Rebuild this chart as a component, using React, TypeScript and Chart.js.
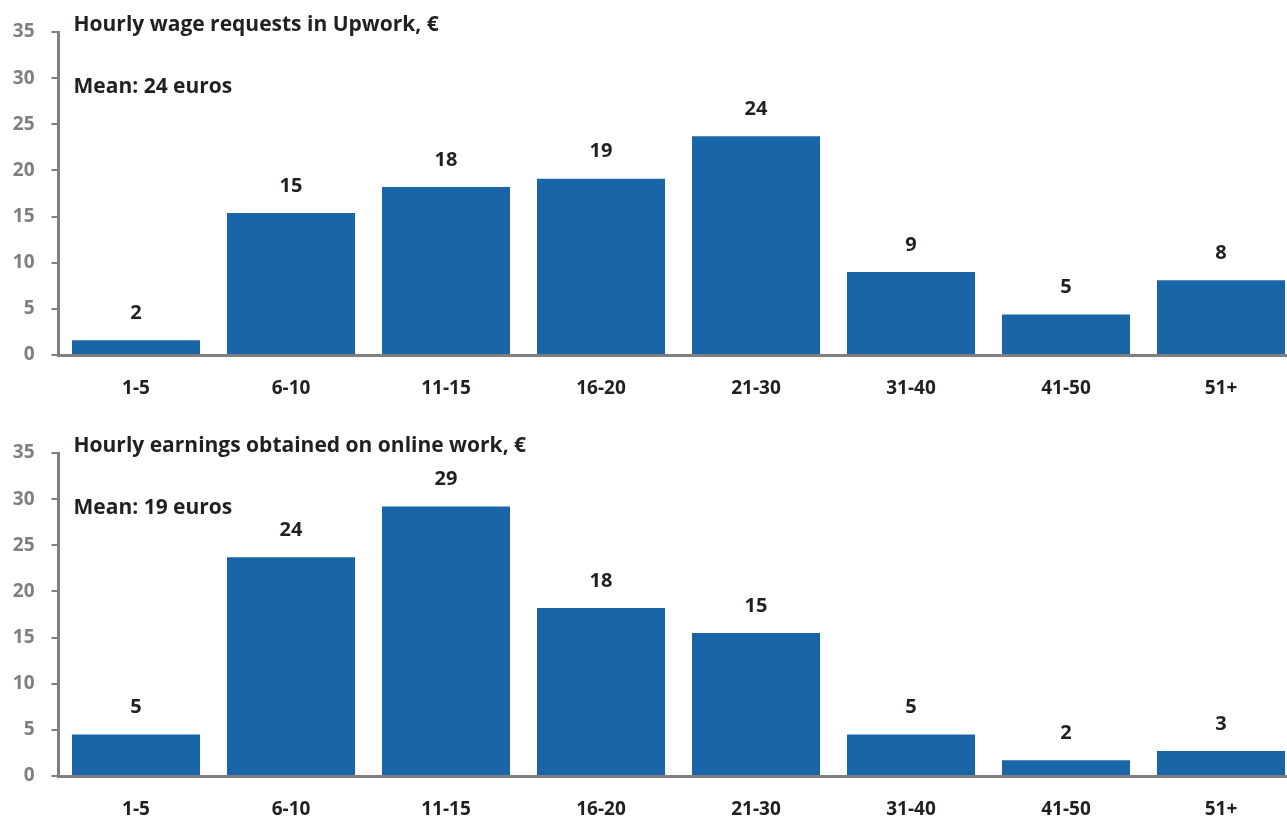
import React, { useEffect, useRef } from "react";
import { Chart, registerables } from "chart.js";

Chart.register(...registerables);

const categories = ["1-5", "6-10", "11-15", "16-20", "21-30", "31-40", "41-50", "51+"];
const requestValues = [1.6, 15.4, 18.2, 19.1, 23.7, 9.0, 4.4, 8.1];
const requestLabels = ["2", "15", "18", "19", "24", "9", "5", "8"];
const earningValues = [4.5, 23.7, 29.2, 18.2, 15.5, 4.5, 1.7, 2.7];
const earningLabels = ["5", "24", "29", "18", "15", "5", "2", "3"];
const yTicks = [0, 5, 10, 15, 20, 25, 30, 35];

const FONT = "'Open Sans', Lato, sans-serif";
const BAR = "#1a64a8";
const AXIS = "#7f7f7f";
const TEXT = "#231f20";

function BarPanel(props: { values: number[]; labels: string[]; title: string; mean: string; top: number }) {
  const ref = useRef<HTMLCanvasElement | null>(null);
  useEffect(() => {
    if (!ref.current) return;
    const { values, labels, title, mean } = props;
    const overlay = {
      id: "overlay",
      afterDatasetsDraw(chart: any) {
        const ctx = chart.ctx;
        const area = chart.chartArea;
        ctx.save();
        ctx.fillStyle = TEXT;
        ctx.textAlign = "center";
        ctx.textBaseline = "middle";
        ctx.font = `bold 20px ${FONT}`;
        const meta = chart.getDatasetMeta(0);
        meta.data.forEach((bar: any, i: number) => {
          ctx.fillText(labels[i], bar.x, bar.y - 27);
        });
        ctx.textAlign = "left";
        ctx.font = `bold 21px ${FONT}`;
        ctx.fillText(title, area.left + 15, area.top - 7);
        ctx.fillText(mean, area.left + 15, area.top + 55);
        ctx.restore();
      },
    };
    const chart = new Chart(ref.current, {
      type: "bar",
      data: {
        labels: categories,
        datasets: [
          {
            data: values,
            backgroundColor: BAR,
            borderWidth: 0,
            barPercentage: 0.826,
            categoryPercentage: 1,
          },
        ],
      },
      options: {
        responsive: false,
        animation: false,
        layout: { padding: { top: 32, right: 1.5, left: 0, bottom: 0 } },
        plugins: { legend: { display: false }, tooltip: { enabled: false }, title: { display: false } },
        scales: {
          x: {
            grid: { display: false, drawTicks: false },
            border: { display: true, color: AXIS, width: 3 },
            ticks: { color: TEXT, font: { family: FONT, size: 19, weight: "bold" }, padding: 22, maxRotation: 0 },
            afterFit: (s: any) => {
              s.height = 44;
            },
          },
          y: {
            min: 0,
            max: 35,
            afterBuildTicks: (s: any) => {
              s.ticks = yTicks.map((v) => ({ value: v }));
            },
            grid: { drawOnChartArea: false, drawTicks: true, tickLength: 7, color: AXIS, lineWidth: 2 },
            border: { display: true, color: AXIS, width: 3 },
            ticks: { color: AXIS, font: { family: FONT, size: 19, weight: "bold" }, padding: 17 },
            afterFit: (s: any) => {
              s.width = 58.5;
            },
          },
        },
      },
      plugins: [overlay],
    } as any);
    return () => chart.destroy();
  }, []);
  return (
    <canvas
      ref={ref}
      width={1300}
      height={399}
      style={{ position: "absolute", left: 0, top: props.top, width: 1300, height: 399 }}
    />
  );
}

export default function App() {
  return (
    <div style={{ position: "fixed", left: 0, top: 0, width: 1287, height: 820, overflow: "hidden", background: "#fff" }}>
      <BarPanel values={requestValues} labels={requestLabels} title="Hourly wage requests in Upwork, €" mean="Mean: 24 euros" top={0} />
      <BarPanel values={earningValues} labels={earningLabels} title="Hourly earnings obtained on online work, €" mean="Mean: 19 euros" top={421} />
    </div>
  );
}
